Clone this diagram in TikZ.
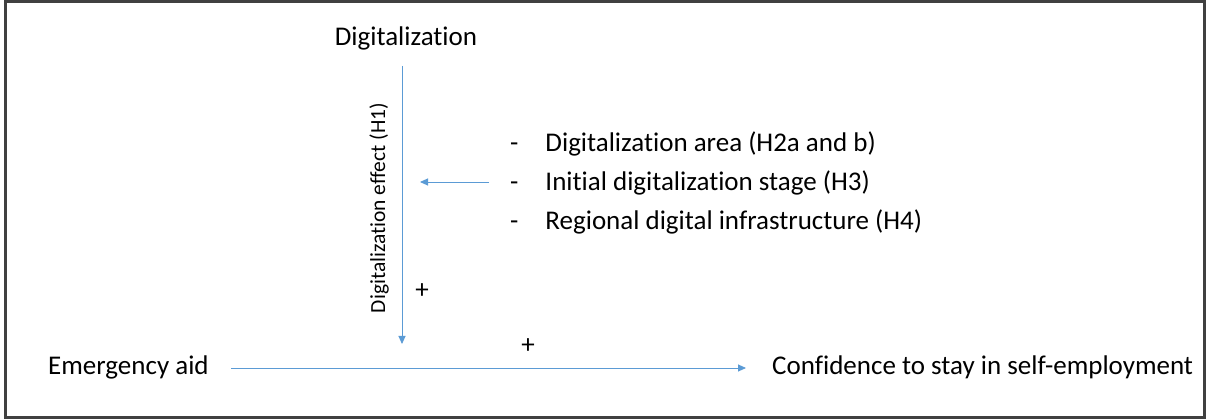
\documentclass[tikz,border=0pt]{standalone}
\usepackage{fontspec}
\setmainfont{Carlito}[Ligatures=NoCommon]
\usetikzlibrary{arrows.meta}
\definecolor{arrowblue}{HTML}{5B9BD5}
\definecolor{framegray}{HTML}{404040}
\tikzset{
  lbl/.style={inner sep=0pt, font=\fontsize{27}{32}\selectfont},
  smalllbl/.style={inner sep=0pt, font=\fontsize{21.5}{26}\selectfont},
  conn/.style={draw=arrowblue, line width=0.9pt, -{Triangle[length=8pt,width=7pt]}},
}
\begin{document}
\begin{tikzpicture}[x=1pt,y=-1pt]
\useasboundingbox (0,0) rectangle (1207,419);
\draw[framegray, line width=3pt, fill=white] (5.5,1.5) rectangle (1204,417.5);
\node[lbl] (dig) at (406,38) {Digitalization};
\node[lbl, anchor=west] (ea) at (48,367) {Emergency aid};
\node[lbl, anchor=west] (conf) at (772,367) {Confidence to stay in self-employment};
\coordinate (vtop) at (402,66);
\coordinate (vbot) at (402,344);
\draw[conn] (vtop) -- (vbot);
\node[smalllbl, rotate=90] (eff) at (379,208) {Digitalization effect (H1)};
\node[lbl, anchor=west] (l1) at (510,144) {-\hspace{27pt}Digitalization area (H2a and b)};
\node[lbl, anchor=west] (l2) at (510,183) {-\hspace{27pt}Initial digitalization stage (H3)};
\node[lbl, anchor=west] (l3) at (510,222) {-\hspace{27pt}Regional digital infrastructure (H4)};
\coordinate (hs) at (489,182);
\coordinate (he) at (420,182);
\draw[conn] (hs) -- (he);
\node[lbl] (p1) at (422,291) {+};
\node[lbl] (p2) at (528,346) {+};
\coordinate (as) at (231,368);
\coordinate (ae) at (746,368);
\draw[conn] (as) -- (ae);
\end{tikzpicture}
\end{document}
